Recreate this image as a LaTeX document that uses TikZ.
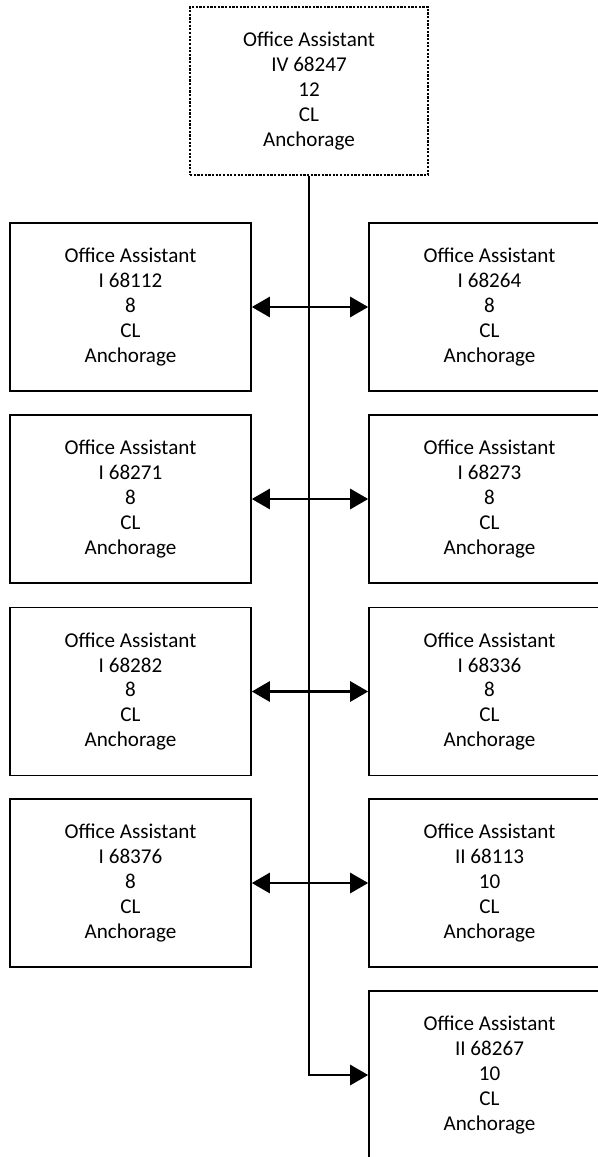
\documentclass[tikz,border=0pt]{standalone}
\usepackage{fontspec}
\setmainfont{Carlito}
\usepackage{tikz}
\usetikzlibrary{arrows.meta}
\usetikzlibrary{positioning}

\begin{document}
\begin{tikzpicture}[x=0.025cm, y=-0.025cm,
		post/.style={
			draw,
			rectangle,
			line width=1.1pt,
			minimum width=6.025cm,
			minimum height=4.2cm,
			align=center,
			font=\fontsize{15}{17.7}\selectfont,
			inner sep=0pt,
		},
		lead/.style={post, dash pattern=on 1.6pt off 1pt, line width=0.9pt, minimum width=5.95cm},
		link/.style={line width=2pt, {Triangle[length=0.45cm, width=0.5cm]}-{Triangle[length=0.45cm, width=0.5cm]}},
		down/.style={line width=2pt, -{Triangle[length=0.45cm, width=0.5cm]}}]
		\useasboundingbox (0,0) rectangle (598,1157);
		\clip (0,0) rectangle (598,1157);
		
		\node[lead] (top) at (309,91) {Office Assistant\\IV 68247\\12\\CL\\Anchorage};
		
		\node[post] (l1) at (130.5,307) {Office Assistant\\I 68112\\8\\CL\\Anchorage};
		\node[post] (r1) at (489.5,307) {Office Assistant\\I 68264\\8\\CL\\Anchorage};
		\node[post] (l2) at (130.5,499) {Office Assistant\\I 68271\\8\\CL\\Anchorage};
		\node[post] (r2) at (489.5,499) {Office Assistant\\I 68273\\8\\CL\\Anchorage};
		\node[post] (l3) at (130.5,691.5) {Office Assistant\\I 68282\\8\\CL\\Anchorage};
		\node[post] (r3) at (489.5,691.5) {Office Assistant\\I 68336\\8\\CL\\Anchorage};
		\node[post] (l4) at (130.5,883) {Office Assistant\\I 68376\\8\\CL\\Anchorage};
		\node[post] (r4) at (489.5,883) {Office Assistant\\II 68113\\10\\CL\\Anchorage};
		\node[post] (r5) at (489.5,1075) {Office Assistant\\II 68267\\10\\CL\\Anchorage};
		
		% trunk from the lead position
		\draw[down] (top.south) |- (r5.west);
		
		\draw[link] (l1.east) -- (r1.west);
		\draw[link] (l2.east) -- (r2.west);
		\draw[link] (l3.east) -- (r3.west);
		\draw[link] (l4.east) -- (r4.west);
	\end{tikzpicture}
\end{document}
